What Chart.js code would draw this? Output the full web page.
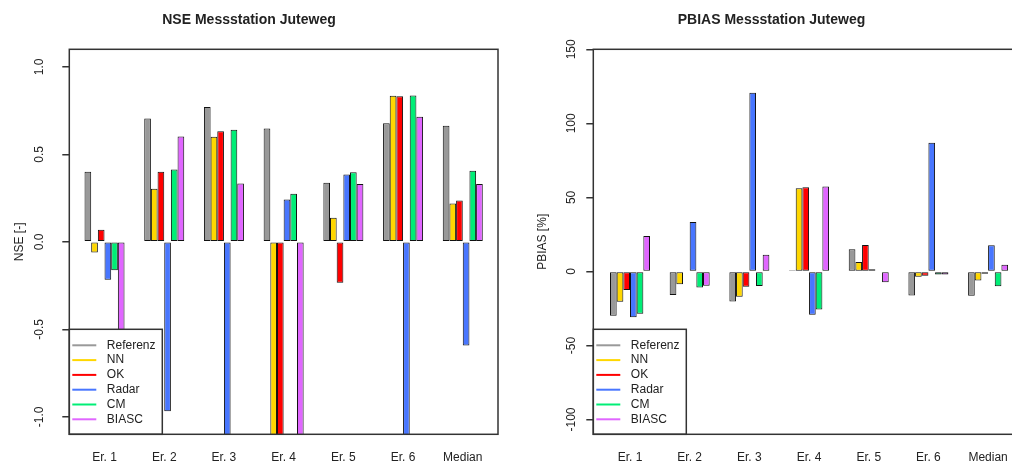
<!DOCTYPE html>
<html lang="de">
<head>
<meta charset="UTF-8">
<title>NSE / PBIAS Messstation Juteweg</title>
<script src="https://cdn.jsdelivr.net/npm/chart.js"></script>
<style>
  html, body { margin: 0; padding: 0; background: #fff; overflow: hidden; }
  body { width: 1012px; height: 464px; position: relative; }
  .panel { position: absolute; top: 0; height: 464px; }
  #nsePanel { left: 0; width: 567px; }
  #pbiasPanel { left: 520px; width: 576px; }
</style>
</head>
<body>
<div class="panel" id="nsePanel"><canvas id="nseChart" width="567" height="464"></canvas></div>
<div class="panel" id="pbiasPanel"><canvas id="pbiasChart" width="576" height="464"></canvas></div>

<script>
const categories = ["Er. 1", "Er. 2", "Er. 3", "Er. 4", "Er. 5", "Er. 6", "Median"];
const seriesNames = ["Referenz", "NN", "OK", "Radar", "CM", "BIASC"];
const seriesColors = ["#999999", "#FFD700", "#FF0000", "#4876FF", "#00EE76", "#E066FF"];

// NSE [-], bars below -1.1 run off the bottom of the plot
const nseReferenz = [0.40, 0.705, 0.771, 0.648, 0.337, 0.678, 0.663];
const nseNN       = [-0.061, 0.303, 0.600, -1.5, 0.137, 0.834, 0.219];
const nseOK       = [0.069, 0.400, 0.632, -1.5, -0.234, 0.832, 0.236];
const nseRadar    = [-0.217, -0.968, -1.5, 0.242, 0.385, -1.5, -0.592];
const nseCM       = [-0.162, 0.413, 0.640, 0.274, 0.398, 0.836, 0.406];
const nseBIASC    = [-0.8, 0.602, 0.333, -1.5, 0.330, 0.714, 0.331];
const nseTicks = [-1, -0.5, 0, 0.5, 1];

// PBIAS [%]
const pbiasReferenz = [-30.0, -16.0, -20.3, 0.8, 14.9, -16.2, -16.4];
const pbiasNN       = [-20.5, -8.6, -17.1, 56.1, 6.3, -3.6, -6.1];
const pbiasOK       = [-12.6, 0.5, -10.4, 56.8, 17.8, -2.9, -1.6];
const pbiasRadar    = [-30.9, 33.3, 120.7, -29.3, 1.4, 86.9, 17.6];
const pbiasCM       = [-28.6, -10.8, -9.9, -25.7, -0.5, -2.0, -10.1];
const pbiasBIASC    = [23.9, -9.7, 11.3, 57.4, -7.4, -2.0, 4.5];
const pbiasTicks = [-100, -50, 0, 50, 100, 150];

const FONT = "'Liberation Sans', Arial, sans-serif";
Chart.defaults.font.family = FONT;
Chart.defaults.color = '#222';

// R-style box around the plot plus a bottom-left legend on white
const boxLegend = {
  id: 'boxLegend',
  afterDatasetsDraw(chart) {
    const a = chart.chartArea, ctx = chart.ctx;
    const w = 93, h = 105, x0 = a.left, y0 = a.bottom - h;
    ctx.save();
    ctx.fillStyle = '#fff';
    ctx.fillRect(x0, y0, w, h);
    ctx.strokeStyle = '#333';
    ctx.lineWidth = 1.5;
    ctx.strokeRect(x0, y0, w, h);
    ctx.font = '12px ' + FONT;
    ctx.textBaseline = 'middle';
    chart.data.datasets.forEach((ds, i) => {
      const y = y0 + 16 + i * 14.8;
      ctx.strokeStyle = ds.backgroundColor;
      ctx.lineWidth = 2;
      ctx.beginPath();
      ctx.moveTo(x0 + 3, y);
      ctx.lineTo(x0 + 27, y);
      ctx.stroke();
      ctx.fillStyle = '#222';
      ctx.fillText(ds.label, x0 + 37.5, y);
    });
    ctx.strokeStyle = '#333';
    ctx.lineWidth = 1.5;
    ctx.strokeRect(a.left, a.top, a.right - a.left, a.bottom - a.top);
    ctx.restore();
  }
};

function makeChart(id, cfg) {
  const datasets = cfg.series.map((vals, s) => ({
    label: seriesNames[s],
    data: vals.map((v, i) => ({ x: i + 1, y: v })),
    backgroundColor: seriesColors[s],
    borderColor: '#111',
    borderWidth: 1,
    borderSkipped: false,
    clip: 0,
    categoryPercentage: 0.67,
    barPercentage: 1
  }));

  return new Chart(document.getElementById(id), {
    type: 'bar',
    data: { datasets },
    plugins: [boxLegend],
    options: {
      responsive: false,
      animation: false,
      layout: { padding: { left: 0, right: cfg.padRight, top: 0, bottom: 0 } },
      plugins: {
        legend: { display: false },
        tooltip: { enabled: false },
        title: {
          display: true,
          text: cfg.title,
          color: '#222',
          font: { size: 14, weight: 'bold' },
          padding: { top: 12.2, bottom: 20.3 }
        }
      },
      scales: {
        x: {
          type: 'linear',
          offset: false,
          min: cfg.xMin,
          max: cfg.xMax,
          afterBuildTicks: s => { s.ticks = categories.map((c, i) => ({ value: i + 1 })); },
          afterFit: s => { s.height = 29.7; },
          grid: { display: false, drawTicks: false, offset: false },
          border: { display: false },
          ticks: {
            autoSkip: false,
            maxRotation: 0,
            padding: 16.5,
            color: '#222',
            font: { size: 12 },
            callback: v => categories[v - 1]
          }
        },
        y: {
          min: cfg.yMin,
          max: cfg.yMax,
          afterBuildTicks: s => { s.ticks = cfg.ticks.map(v => ({ value: v })); },
          afterFit: s => { s.width = cfg.yWidth; },
          grid: { drawOnChartArea: false, drawTicks: true, tickLength: 7, tickColor: '#333', lineWidth: 1.5 },
          border: { display: false },
          ticks: {
            minRotation: 90,
            maxRotation: 90,
            crossAlign: 'center',
            padding: cfg.tickPad,
            color: '#222',
            font: { size: 12 },
            callback: cfg.fmt
          },
          title: {
            display: true,
            text: cfg.yTitle,
            color: '#222',
            font: { size: 12 },
            padding: { top: cfg.titlePad, bottom: 0 }
          }
        }
      }
    }
  });
}

makeChart('nseChart', {
  title: 'NSE Messstation Juteweg',
  yTitle: 'NSE [-]',
  series: [nseReferenz, nseNN, nseOK, nseRadar, nseCM, nseBIASC],
  ticks: nseTicks,
  fmt: v => v.toFixed(1),
  yMin: -1.1, yMax: 1.1,
  xMin: 0.41, xMax: 7.59,
  yWidth: 69.3, padRight: 69, tickPad: 12, titlePad: 12.8
});

makeChart('pbiasChart', {
  title: 'PBIAS Messstation Juteweg',
  yTitle: 'PBIAS [%]',
  series: [pbiasReferenz, pbiasNN, pbiasOK, pbiasRadar, pbiasCM, pbiasBIASC],
  ticks: pbiasTicks,
  fmt: v => String(v),
  yMin: -110, yMax: 150,
  xMin: 0.385, xMax: 7.585,
  yWidth: 73.3, padRight: 73, tickPad: 3, titlePad: 15.8
});
</script>
</body>
</html>
